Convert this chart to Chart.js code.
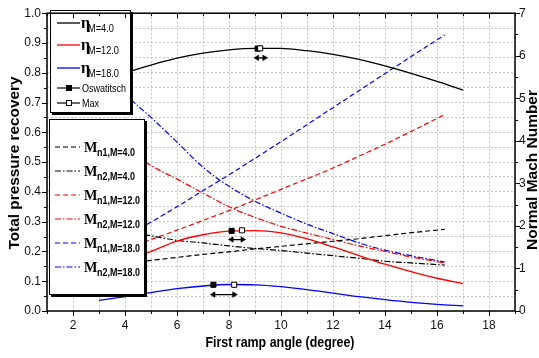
<!DOCTYPE html>
<html><head><meta charset="utf-8">
<script src="https://cdn.jsdelivr.net/npm/chart.js@4.4.0/dist/chart.umd.min.js"></script>
<style>html,body{margin:0;padding:0;background:#fff;overflow:hidden}canvas{display:block}</style>
</head><body>
<canvas id="c" width="539" height="358"></canvas>
<script>
// ---- data ----
const angleEta = [3,4,5,6,7,8,9,10,11,12,13,14,15,16,17];
const etaM4  = [0.775,0.800,0.826,0.849,0.866,0.877,0.882,0.882,0.874,0.862,0.845,0.823,0.798,0.771,0.742];
const etaM12 = [0.130,0.165,0.200,0.235,0.256,0.268,0.270,0.262,0.242,0.215,0.186,0.157,0.132,0.110,0.092];
const etaM18 = [0.036,0.048,0.062,0.075,0.084,0.089,0.088,0.082,0.072,0.060,0.048,0.038,0.029,0.022,0.017];

const angleMach = [3,4,5,6,7,8,9,10,11,12,13,14,15,16.3];
const mn1M4  = [1.05,1.12,1.19,1.26,1.33,1.39,1.46,1.52,1.58,1.64,1.70,1.77,1.84,1.92];
const mn2M4  = [1.97,1.87,1.77,1.66,1.60,1.53,1.47,1.42,1.36,1.30,1.24,1.17,1.13,1.08];
const mn1M12 = [1.22,1.45,1.68,1.90,2.13,2.36,2.61,2.86,3.11,3.36,3.64,3.92,4.22,4.62];
const mn2M12 = [4.30,3.85,3.42,3.10,2.77,2.45,2.20,1.99,1.83,1.68,1.53,1.40,1.27,1.13];
const mn1M18 = [1.35,1.72,2.09,2.45,2.83,3.20,3.59,3.98,4.38,4.78,5.18,5.58,5.98,6.49];
const mn2M18 = [5.75,5.10,4.55,3.97,3.38,2.93,2.58,2.30,2.04,1.82,1.60,1.43,1.30,1.15];

const oswAngle = [9.10, 8.10, 7.40];
const oswEta   = [0.881, 0.269, 0.088];
const maxAngle = [9.20, 8.50, 8.20];
const maxEta   = [0.882, 0.271, 0.088];
const arrowFrom = [9.08, 8.10, 7.40];
const arrowTo   = [9.36, 8.52, 8.20];
const arrowEta  = [0.850, 0.240, 0.055];

const xTicks  = [2,4,6,8,10,12,14,16,18];
const yTicks  = [0.0,0.1,0.2,0.3,0.4,0.5,0.6,0.7,0.8,0.9,1.0];
const y2Ticks = [0,1,2,3,4,5,6,7];

// ---- styling ----
const FONT = "'Liberation Sans Narrow','Arial Narrow','Liberation Sans',Arial,sans-serif";
const SANS = "'Liberation Sans',Arial,sans-serif";
const SERIF = "'Liberation Serif','Times New Roman',serif";
const DASH = [5,3];
const DASHDOT = [6,2,1.5,2];

function pts(xs, ys){ return xs.map((x,i)=>({x:x, y:ys[i]})); }
function line(label, xs, ys, color, dash, axis, w){
  return {label, data: pts(xs,ys), borderColor: color, backgroundColor: color, borderWidth: w||1.2,
    borderDash: dash||[], pointRadius: 0, pointHoverRadius:0, fill:false, yAxisID: axis, cubicInterpolationMode:'monotone', order: 5};
}

const datasets = [
  line('ηM=4.0',  angleEta, etaM4,  '#000000', [], 'y', 1.3),
  line('ηM=12.0', angleEta, etaM12, '#ff0000', [], 'y', 1.3),
  line('ηM=18.0', angleEta, etaM18, '#0000ff', [], 'y', 1.3),
  line('Mn1,M=4.0',  angleMach, mn1M4,  '#000000', DASH, 'y2'),
  line('Mn2,M=4.0',  angleMach, mn2M4,  '#000000', DASHDOT, 'y2'),
  line('Mn1,M=12.0', angleMach, mn1M12, '#ff0000', DASH, 'y2'),
  line('Mn2,M=12.0', angleMach, mn2M12, '#ff0000', DASHDOT, 'y2'),
  line('Mn1,M=18.0', angleMach, mn1M18, '#0000ff', DASH, 'y2'),
  line('Mn2,M=18.0', angleMach, mn2M18, '#0000ff', DASHDOT, 'y2'),
];
for (let i=0;i<arrowFrom.length;i++){
  datasets.push({label:'arrow'+i, data:[{x:arrowFrom[i],y:arrowEta[i]},{x:arrowTo[i],y:arrowEta[i]}],
    borderColor:'#000', backgroundColor:'#000', borderWidth:1.3, yAxisID:'y',
    pointStyle:'triangle', pointRadius:3.2, pointBorderWidth:0.5,
    pointRotation:(c)=> c.dataIndex===0 ? 270 : 90, order:2});
}
datasets.push({label:'Oswatitsch', data: pts(oswAngle, oswEta), showLine:false, yAxisID:'y',
  pointStyle:'rect', pointRadius:3.6, pointBackgroundColor:'#000', pointBorderColor:'#000', pointBorderWidth:1, order:1});
datasets.push({label:'Max', data: pts(maxAngle, maxEta), showLine:false, yAxisID:'y',
  pointStyle:'rect', pointRadius:3.6, pointBackgroundColor:'#fff', pointBorderColor:'#000', pointBorderWidth:1, order:0});

function drawText(ctx, s, x, y, font, sx, align){
  ctx.save(); ctx.font = font; ctx.textBaseline='alphabetic'; ctx.textAlign = align||'left';
  ctx.translate(x,y); ctx.scale(sx||1,1); ctx.fillText(s,0,0); ctx.restore();
}
function fitText(ctx, s, x, y, font, width, rot){
  ctx.save(); ctx.font = font; ctx.textAlign='center'; ctx.textBaseline='middle';
  const m = ctx.measureText(s).width; ctx.translate(x,y); if (rot) ctx.rotate(rot);
  ctx.scale(width/m,1); ctx.fillText(s,0,0); ctx.restore();
}
function seg(ctx,x1,y1,x2,y2){ ctx.beginPath(); ctx.moveTo(x1,y1); ctx.lineTo(x2,y2); ctx.stroke(); }
function box(ctx,x1,y1,x2,y2){
  ctx.save(); ctx.setLineDash([]);
  ctx.fillStyle='#000'; ctx.fillRect(x1+2,y1+2,x2-x1,y2-y1);
  ctx.fillStyle='#fff'; ctx.fillRect(x1,y1,x2-x1,y2-y1);
  ctx.strokeStyle='#000'; ctx.lineWidth=1; ctx.strokeRect(x1+0.5,y1+0.5,x2-x1-1,y2-y1-1);
  ctx.restore();
}
function narrowFactor(ctx, s, font, target){ ctx.save(); ctx.font=font; const w=ctx.measureText(s).width; ctx.restore(); return target/w; }

const deco = {
  id:'deco',
  afterDatasetsDraw(chart){
    const ctx = chart.ctx, a = chart.chartArea, sx = chart.scales.x, sy = chart.scales.y, sy2 = chart.scales.y2;
    ctx.save();
    // legend 1
    box(ctx, 50, 10, 131, 113);
    const l1 = [{y:23,c:'#000',s:'M=4.0'},{y:45,c:'#f00',s:'M=12.0'},{y:68,c:'#00f',s:'M=18.0'}];
    const subF = '10px '+SANS;
    const kSub = narrowFactor(ctx,'M=12.0',subF,31);
    l1.forEach(r=>{
      ctx.strokeStyle=r.c; ctx.lineWidth=1.3; ctx.setLineDash([]); seg(ctx,57,r.y,80,r.y);
      ctx.fillStyle='#000';
      drawText(ctx,'η',81,r.y+5,'bold 16px '+SERIF,1);
      drawText(ctx,r.s,88,r.y+9,subF,kSub);
    });
    const lf = '11px '+SANS;
    const kL = narrowFactor(ctx,'Oswatitsch',lf,44);
    ctx.strokeStyle='#000'; ctx.lineWidth=1.2; seg(ctx,57,88,80,88); seg(ctx,57,103,80,103);
    ctx.fillStyle='#000'; ctx.fillRect(66,85,6,6);
    ctx.fillStyle='#fff'; ctx.fillRect(66,100,6,6); ctx.strokeStyle='#000'; ctx.lineWidth=1; ctx.strokeRect(66.5,100.5,5,5);
    ctx.fillStyle='#000';
    drawText(ctx,'Oswatitsch',82,92,lf,kL);
    drawText(ctx,'Max',82,107,lf,kL);

    // legend 2
    box(ctx, 49, 119, 145, 295);
    const l2 = [
      {y:147,c:'#000',d:DASH,s:'n1,M=4.0'},{y:171,c:'#000',d:DASHDOT,s:'n2,M=4.0'},
      {y:195,c:'#f00',d:DASH,s:'n1,M=12.0'},{y:219,c:'#f00',d:DASHDOT,s:'n2,M=12.0'},
      {y:243,c:'#00f',d:DASH,s:'n1,M=18.0'},{y:267,c:'#00f',d:DASHDOT,s:'n2,M=18.0'}];
    const sub2F = 'bold 10px '+SANS;
    const k2 = narrowFactor(ctx,'n1,M=12.0',sub2F,43);
    l2.forEach(r=>{
      ctx.strokeStyle=r.c; ctx.lineWidth=1.2; ctx.setLineDash(r.d); seg(ctx,55,r.y,80,r.y); ctx.setLineDash([]);
      ctx.fillStyle='#000';
      drawText(ctx,'M',84,r.y+5,'bold 15px '+SERIF,0.95);
      drawText(ctx,r.s,97,r.y+9,sub2F,k2);
    });

    // frame
    ctx.setLineDash([]); ctx.strokeStyle='#000'; ctx.lineWidth=1.5;
    ctx.strokeRect(a.left, a.top, a.right-a.left, a.bottom-a.top);
    ctx.lineWidth=1;
    sx.ticks.forEach(t=>{
      const p = Math.round(sx.getPixelForValue(t.value))+0.5;
      const L = (xTicks.indexOf(t.value)>=0) ? 5 : 3;
      seg(ctx,p,a.bottom,p,a.bottom+L); seg(ctx,p,a.top,p,a.top+L);
    });
    sy.ticks.forEach(t=>{
      const p = Math.round(sy.getPixelForValue(t.value))+0.5;
      const major = Math.round(t.value*100)%10===0;
      seg(ctx,a.left-(major?5:3),p,a.left,p);
    });
    sy2.ticks.forEach(t=>{
      const p = Math.round(sy2.getPixelForValue(t.value))+0.5;
      const major = Math.abs(t.value-Math.round(t.value))<1e-6;
      seg(ctx,a.right,p,a.right+(major?5:3),p);
    });

    // axis titles
    ctx.fillStyle='#000';
    fitText(ctx,'Total pressure recovery',15,163,'bold 15px '+SANS,173,-Math.PI/2);
    fitText(ctx,'Normal Mach Number',533,170,'bold 15px '+SANS,160,-Math.PI/2);
    fitText(ctx,'First ramp angle (degree)',280,343,'bold 15px '+SANS,149,0);
    ctx.restore();
  }
};

new Chart(document.getElementById('c'), {
  type:'line',
  data:{datasets},
  plugins:[deco],
  options:{
    responsive:false, animation:false, devicePixelRatio:1,
    layout:{padding:{top:8,left:0,right:0,bottom:0}},
    plugins:{legend:{display:false}, tooltip:{enabled:false}},
    elements:{line:{tension:0}},
    scales:{
      x:{type:'linear', position:'bottom', min:1, max:19,
        ticks:{stepSize:1, autoSkip:false, maxRotation:0, padding:7, color:'#111',
          font:{family:FONT,size:12},
          callback:(v)=> xTicks.indexOf(v)>=0 ? String(v) : ''},
        grid:{color:'#c4c4c4', lineWidth:1, drawTicks:false},
        border:{display:false, dash:[2,2]},
        afterFit:(s)=>{ s.height = 47; }
      },
      y:{type:'linear', position:'left', min:0, max:1,
        ticks:{stepSize:0.05, autoSkip:false, padding:6, color:'#111',
          font:{family:FONT,size:12},
          callback:(v)=>{ const r = Math.round(v*100)/100; return yTicks.some(t=>Math.abs(t-r)<1e-6) ? r.toFixed(1) : ''; }},
        grid:{color:'#c4c4c4', lineWidth:1, drawTicks:false},
        border:{display:false, dash:[2,2]},
        afterFit:(s)=>{ s.width = 47; }
      },
      y2:{type:'linear', position:'right', min:0, max:7,
        ticks:{stepSize:0.5, autoSkip:false, padding:4, color:'#111',
          font:{family:FONT,size:12},
          callback:(v)=> y2Ticks.indexOf(v)>=0 ? String(v) : ''},
        grid:{drawOnChartArea:false, drawTicks:false},
        border:{display:false},
        afterFit:(s)=>{ s.width = 24; }
      }
    }
  }
});
</script>
</body></html>
